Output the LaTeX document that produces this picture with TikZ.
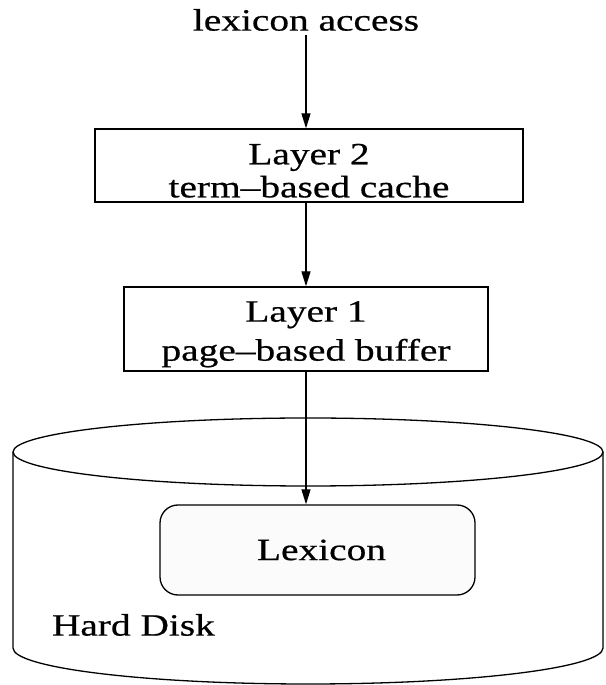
\documentclass[tikz,border=0pt]{standalone}
\usepackage{fontspec}
\setmainfont{Liberation Serif}[FakeStretch=1.27,FakeBold=0.6]
\usetikzlibrary{arrows.meta}

\begin{document}
\begin{tikzpicture}[x=1pt,y=1pt,line width=1.3pt,
    font=\fontsize{31}{33}\selectfont,
    layerbox/.style={draw,align=center,inner sep=0pt},
    flow/.style={-{Triangle[length=15pt,width=9pt]}}]
\useasboundingbox (0,0) rectangle (605,685);
% the disk
\draw (308,233) ellipse (295 and 34);
\draw (13,233) -- (13,37) arc[start angle=180,end angle=360,x radius=295,y radius=36] -- (603,233);
%\draw[dashed] (308,37) ellipse (295 and 36);
\node (access) at (306,665) {lexicon access};
\node[layerbox,minimum width=428pt,minimum height=73pt] (layer2) at (309,519.5) {\rule{0pt}{31pt}Layer 2\\term--based cache};
\node[layerbox,minimum width=364pt,minimum height=84pt] (layer1) at (306,356) {\rule{0pt}{31pt}Layer 1\\[6pt] page--based buffer};
\node[layerbox,rounded corners=18pt,fill=gray!3,minimum width=315pt,minimum height=90pt] (lexicon) at (317.5,135) {\hspace{8pt}Lexicon};
\node[anchor=west] (disk) at (48,60) {Hard Disk};
\draw[flow] (access) -- (access |- layer2.north);
\draw[flow] (access |- layer2.south) -- (layer1);
\draw[flow] (layer1) -- (layer1 |- lexicon.north);
\end{tikzpicture}
\end{document}
